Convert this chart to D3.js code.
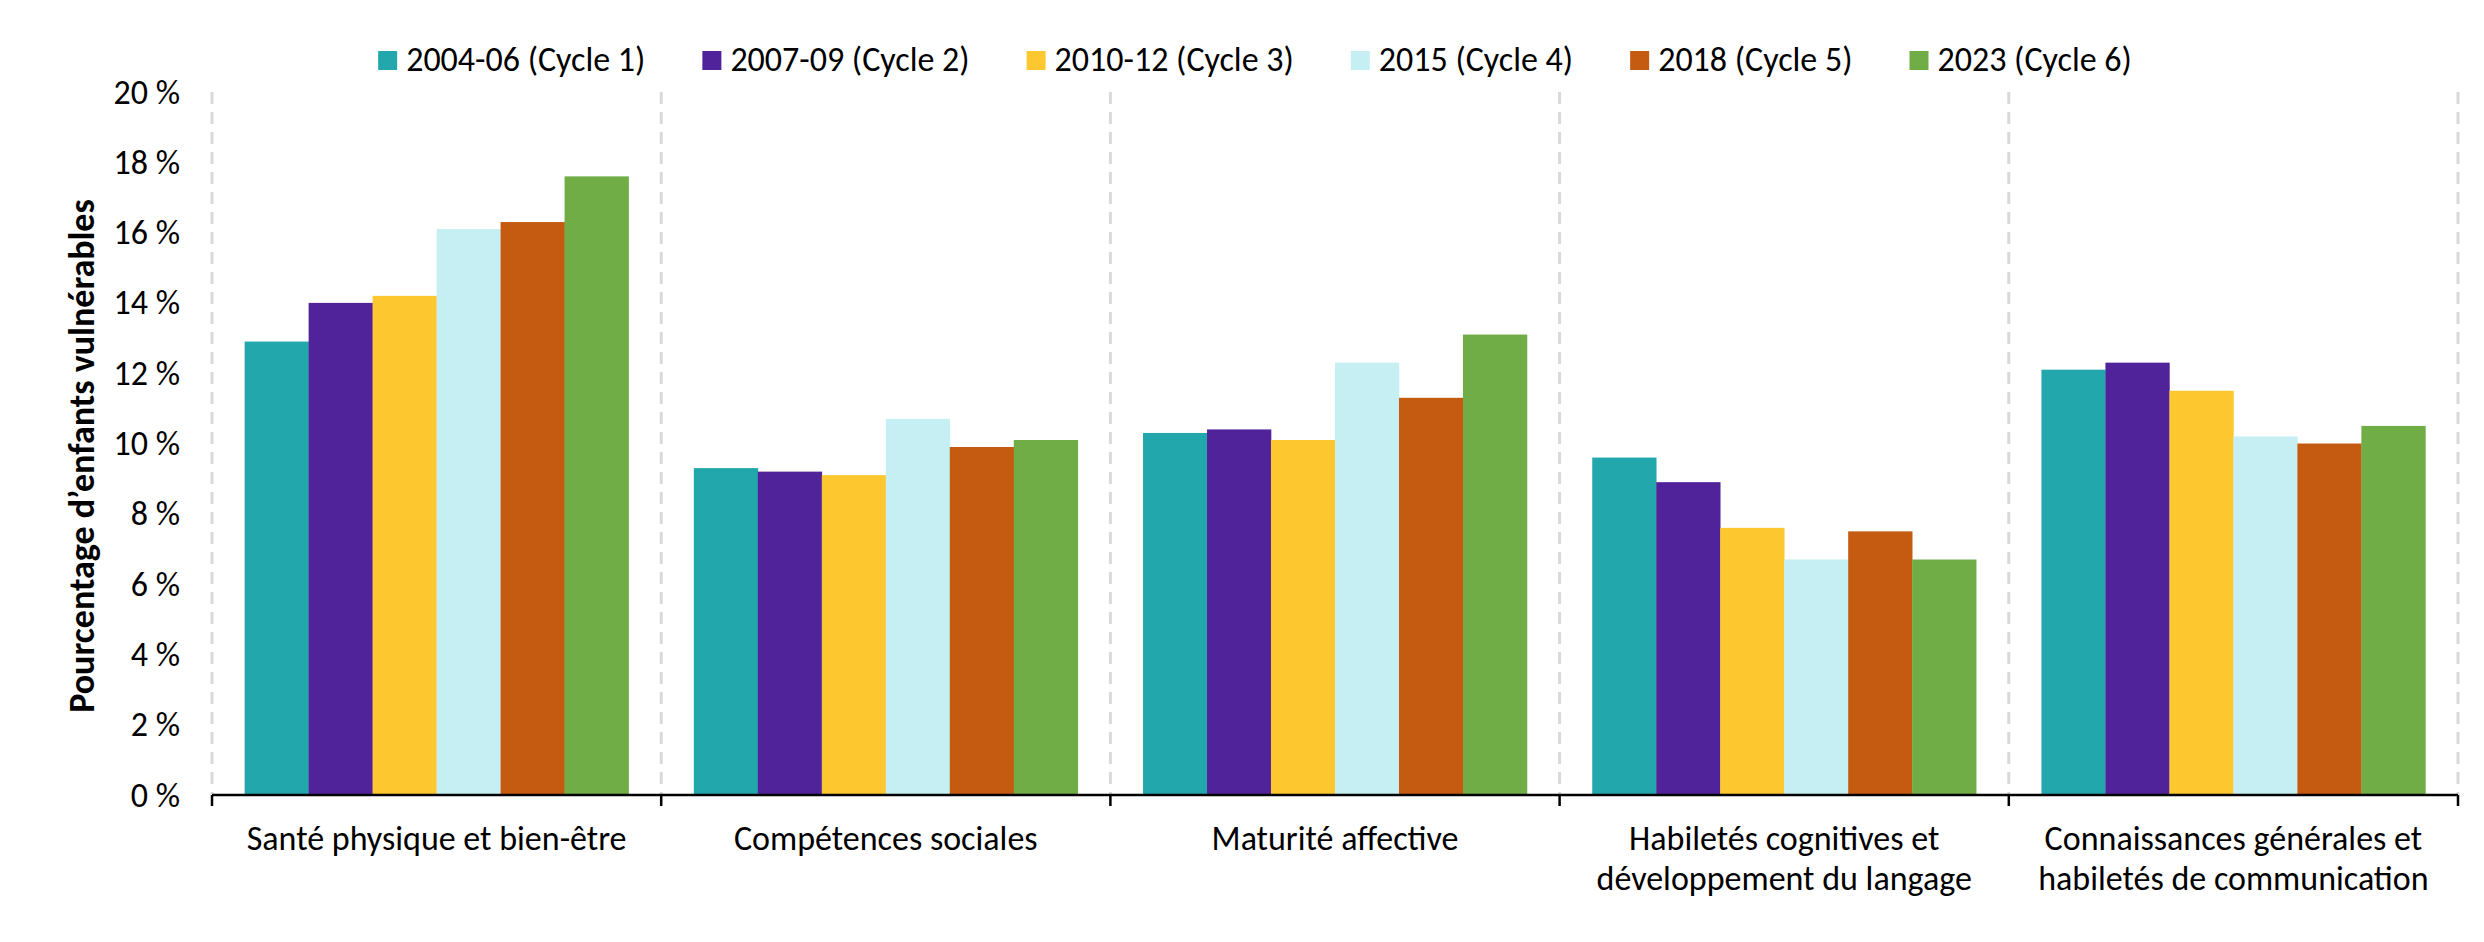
<!DOCTYPE html>
<html>
<head>
<meta charset="utf-8">
<script src="https://cdn.jsdelivr.net/npm/d3@7"></script>
<style>
  html, body { margin: 0; padding: 0; background: #ffffff; }
  svg { display: block; }
  text { font-family: Carlito, Calibri, Lato, "Open Sans", sans-serif; fill: #000; }
</style>
</head>
<body>
<script>
// ---- Data ----
const categories = [
  ["Santé physique et bien-être"],
  ["Compétences sociales"],
  ["Maturité affective"],
  ["Habiletés cognitives et", "développement du langage"],
  ["Connaissances générales et", "habiletés de communication"]
];
const seriesNames = [
  "2004-06 (Cycle 1)",
  "2007-09 (Cycle 2)",
  "2010-12 (Cycle 3)",
  "2015 (Cycle 4)",
  "2018 (Cycle 5)",
  "2023 (Cycle 6)"
];
const seriesColors = ["#22A7AC", "#51239A", "#FDC82F", "#C5EFF2", "#C55A11", "#70AD47"];
const cycle1 = [12.9, 9.3, 10.3, 9.6, 12.1];
const cycle2 = [14.0, 9.2, 10.4, 8.9, 12.3];
const cycle3 = [14.2, 9.1, 10.1, 7.6, 11.5];
const cycle4 = [16.1, 10.7, 12.3, 6.7, 10.2];
const cycle5 = [16.3, 9.9, 11.3, 7.5, 10.0];
const cycle6 = [17.6, 10.1, 13.1, 6.7, 10.5];
const seriesValues = [cycle1, cycle2, cycle3, cycle4, cycle5, cycle6];
const yTicks = [0, 2, 4, 6, 8, 10, 12, 14, 16, 18, 20];
const yTitle = "Pourcentage d\u2019enfants vulnérables";

(function () {
  // ---- Layout ----
  const W = 2484, H = 942;
  const mLeft = 212, mRight = 2458, mTop = 92, mBottom = 795;
  const FS = 34;

  const svg = d3.select("body").append("svg").attr("width", W).attr("height", H);
  svg.append("rect").attr("width", W).attr("height", H).attr("fill", "#fff");

  const catIdx = categories.map((c, i) => i);
  const x0 = d3.scaleBand().domain(catIdx).range([mLeft, mRight]).paddingInner(0).paddingOuter(0);
  const x1 = d3.scaleBand().domain(seriesNames).range([0, x0.bandwidth()]).paddingInner(0).paddingOuter(0.51);
  const y = d3.scaleLinear().domain([0, 20]).range([mBottom, mTop]);

  // dashed vertical separators
  const seps = catIdx.map(i => x0(i)).concat([x0(catIdx.length - 1) + x0.bandwidth()]);
  svg.append("g").selectAll("line").data(seps).join("line")
    .attr("x1", d => d).attr("x2", d => d)
    .attr("y1", y(20)).attr("y2", y(0))
    .attr("stroke", "#d9d9d9").attr("stroke-width", 3)
    .attr("stroke-dasharray", "12,8");

  // bars
  const gCat = svg.append("g").selectAll("g").data(catIdx).join("g")
    .attr("transform", i => `translate(${x0(i)},0)`);
  gCat.selectAll("rect").data(i => seriesNames.map((s, k) => ({ s, k, v: seriesValues[k][i] })))
    .join("rect")
    .attr("x", d => x1(d.s))
    .attr("width", x1.bandwidth() + 0.3)
    .attr("y", d => y(d.v))
    .attr("height", d => y(0) - y(d.v))
    .attr("fill", d => seriesColors[d.k]);

  // x axis
  const xAxisG = svg.append("g").attr("transform", `translate(0,${mBottom})`);
  xAxisG.append("line").attr("x1", mLeft).attr("x2", mRight).attr("y1", 0).attr("y2", 0)
    .attr("stroke", "#000").attr("stroke-width", 2.5);
  xAxisG.selectAll("line.tick").data(seps).join("line").attr("class", "tick")
    .attr("x1", d => d).attr("x2", d => d).attr("y1", 0).attr("y2", 11)
    .attr("stroke", "#000").attr("stroke-width", 2.5);
  const xl = svg.append("g").selectAll("text").data(catIdx).join("text")
    .attr("text-anchor", "middle")
    .attr("font-size", FS)
    .attr("x", i => x0(i) + x0.bandwidth() / 2)
    .attr("y", 850);
  xl.selectAll("tspan").data(i => categories[i].map(t => ({ t, cx: x0(i) + x0.bandwidth() / 2 })))
    .join("tspan")
    .attr("x", d => d.cx)
    .attr("dy", (d, j) => j === 0 ? 0 : 40)
    .text(d => d.t);

  // y axis tick labels
  svg.append("g").selectAll("text").data(yTicks).join("text")
    .attr("x", 180).attr("y", d => y(d))
    .attr("text-anchor", "end").attr("dominant-baseline", "central")
    .attr("font-size", FS)
    .text(d => d + "\u00a0%");

  // y title
  svg.append("text")
    .attr("transform", `translate(94,456) rotate(-90)`)
    .attr("text-anchor", "middle")
    .attr("font-size", 36).attr("font-weight", "bold")
    .text(yTitle);

  // legend
  const legend = svg.append("g");
  const items = legend.selectAll("g").data(seriesNames).join("g");
  items.append("rect").attr("width", 19).attr("height", 19).attr("y", 51)
    .attr("fill", (d, k) => seriesColors[k]);
  items.append("text").attr("x", 28).attr("y", 71).attr("font-size", FS).text(d => d);
  let cx = 0;
  const pos = [];
  items.each(function () {
    const tw = d3.select(this).select("text").node().getComputedTextLength();
    pos.push(cx);
    cx += 28 + tw + 57;
  });
  const totalW = cx - 57;
  const startX = 1255 - totalW / 2;
  items.attr("transform", (d, k) => `translate(${startX + pos[k]},0)`);
})();
</script>
</body>
</html>
